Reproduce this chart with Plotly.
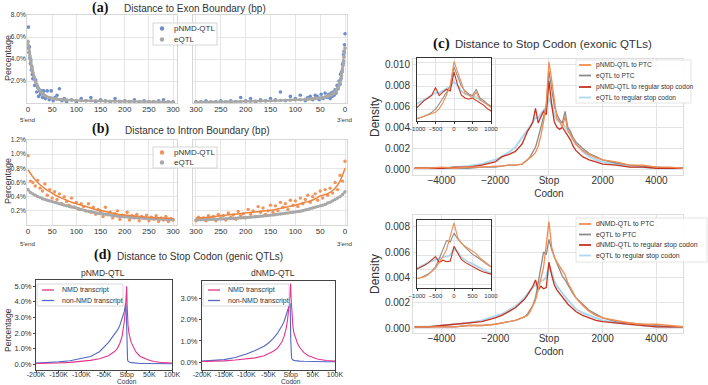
import plotly.graph_objects as go

W, H = 708, 385
def fx(p): return p / W
def fy(p): return 1 - p / H

# ---------------- DATA ----------------
# (a) Distance to exon boundary (bp), percentage
A_POS = [0,1,2,3,4,5,6,7,8,9,10,12,14,16,18,20,22,24,26,28,30,33,36,40,44,48,52,56,60,65,70,75,80,
         90,100,110,120,130,140,150,160,170,180,190,200,210,220,230,240,250,260,270,280,290,300]
A5_EQTL = [5.6,5.2,4.9,4.6,4.3,4.0,3.7,3.4,3.2,3.0,2.8, 2.4,2.1,1.9,1.7,1.5,1.3,1.2,1.05,0.95,0.85,
           0.75,0.65,0.55,0.5,0.45,0.4,0.38,0.35, 0.32,0.3,0.28,0.27,
           0.25,0.23,0.22,0.21,0.2,0.19,0.18,0.17,0.16,0.15,0.15,0.14,0.13,0.13,0.12,0.12,0.11,0.11,0.1,0.1,0.1,0.09]
A5_PNMD = [5.0,6.9,4.6,5.1,4.1,3.6,3.9,3.0,3.3,2.6,2.2, 2.3,1.6,2.1,1.0,1.4,0.6,1.1,0.8,1.1,0.5,
           1.1,0.4,1.1,0.3,1.1,0.2,0.5,0.7, 1.3,0.2,0.4,0.1,
           0.3,0.1,0.4,0.2,0.5,0.1,0.3,0.2,0.1,0.4,0.1,0.2,0.1,0.3,0.1,0.2,0.1,0.1,0.2,0.3,0.1,0.1]
A3_EQTL = [5.0,4.6,4.2,3.8,3.4,3.1,2.8,2.5,2.3,2.1,1.9, 1.6,1.4,1.25,1.1,1.0,0.9,0.85,0.8,0.75,0.7,
           0.65,0.6,0.55,0.5,0.47,0.45,0.43,0.4, 0.38,0.36,0.35,0.33,
           0.3,0.28,0.26,0.25,0.23,0.22,0.2,0.19,0.18,0.17,0.16,0.15,0.14,0.13,0.12,0.12,0.11,0.1,0.1,0.09,0.09,0.08]
A3_PNMD = [6.3,5.3,4.7,4.4,3.6,3.5,2.9,2.8,2.2,2.6,1.7, 2.0,1.3,1.6,0.9,1.2,0.7,1.0,0.6,0.9,0.4,
           0.8,0.5,0.9,0.4,0.8,0.3,0.6,0.7, 0.3,0.6,0.5,0.2,
           0.7,0.4,0.6,0.2,1.0,0.3,0.4,0.2,0.3,0.1,0.4,0.2,0.5,0.1,0.2,0.1,0.2,0.1,0.1,0.2,0.1,0.1]
A_YTICKS = [2, 4, 6, 8]
AB_XTICKS = [0, 50, 100, 150, 200, 250, 300]

# (b) Distance to intron boundary (bp), percentage
B_POS = list(range(0, 301, 5))
B5_EQTL = [0.5,0.46,0.44,0.42,0.40,0.39,0.37,0.36,0.35,0.34,0.33,0.32,0.31,0.30,0.29,0.28,0.27,0.26,0.255,0.25,
           0.24,0.23,0.22,0.21,0.2,0.195,0.19,0.18,0.17,0.165,0.16,0.155,0.15,0.145,0.14,0.135,0.13,0.125,0.12,0.118,
           0.115,0.112,0.11,0.107,0.105,0.102,0.1,0.098,0.096,0.094,0.092,0.09,0.088,0.086,0.085,0.083,0.082,0.08,0.08,0.078,0.077]
B5_PNMD = [0.98,0.62,0.6,0.55,0.63,0.52,0.48,0.58,0.42,0.5,0.38,0.47,0.36,0.44,0.3,0.4,0.33,0.28,0.38,0.25,
           0.32,0.22,0.3,0.26,0.2,0.3,0.18,0.25,0.15,0.22,0.2,0.12,0.25,0.15,0.18,0.1,0.16,0.2,0.08,0.14,
           0.12,0.18,0.07,0.13,0.1,0.15,0.06,0.12,0.09,0.14,0.06,0.11,0.08,0.13,0.05,0.1,0.07,0.12,0.05,0.09,0.07]
B3_EQTL = [0.47,0.43,0.40,0.38,0.36,0.34,0.32,0.31,0.29,0.28,0.27,0.26,0.25,0.24,0.23,0.22,0.21,0.2,0.195,0.19,
           0.185,0.18,0.175,0.17,0.165,0.16,0.155,0.15,0.145,0.14,0.137,0.133,0.13,0.127,0.124,0.12,0.117,0.114,0.11,0.108,
           0.105,0.102,0.1,0.098,0.096,0.094,0.092,0.09,0.088,0.086,0.085,0.083,0.082,0.08,0.079,0.078,0.077,0.076,0.075,0.074,0.073]
B3_PNMD = [0.9,0.62,0.7,0.5,0.6,0.45,0.52,0.42,0.5,0.38,0.48,0.35,0.44,0.4,0.32,0.42,0.36,0.3,0.38,0.26,
           0.34,0.28,0.35,0.22,0.3,0.25,0.32,0.2,0.27,0.18,0.28,0.2,0.15,0.24,0.18,0.26,0.12,0.2,0.15,0.22,
           0.1,0.16,0.13,0.19,0.08,0.14,0.11,0.17,0.07,0.13,0.1,0.15,0.06,0.12,0.09,0.13,0.06,0.1,0.08,0.11,0.06]
B_FIT_POS = [0,10,20,30,40,50,60,70,80,90,100,120,140,160,180,200,225,250,275,300]
B5_FIT = [0.78,0.68,0.6,0.54,0.49,0.45,0.41,0.38,0.35,0.32,0.3,0.26,0.22,0.19,0.16,0.14,0.125,0.11,0.1,0.09]
B3_FIT = [0.8,0.62,0.52,0.46,0.43,0.41,0.37,0.34,0.32,0.3,0.28,0.25,0.22,0.2,0.185,0.17,0.15,0.13,0.11,0.1]
B_YTICKS = [0.2, 0.4, 0.6, 0.8, 1.0, 1.2]

# (c) Distance to stop codon (exonic QTLs), density
C_POS = [-5000,-4500,-4000,-3500,-3000,-2500,-2000,-1750,-1500,-1250,
         -1000,-900,-800,-700,-600,-500,-400,-300,-200,-100,0,100,200,300,400,500,600,700,800,900,1000,
         1250,1500,1750,2000,2500,3000,3500,4000,4500,5000]
C1_PNMD_PTC = [0.0001,0.0001,0.0002,0.0001,0.0002,0.0002,0.0003,0.0003,0.0004,0.0004,
               0.0005,0.0007,0.0009,0.0011,0.0013,0.0016,0.0022,0.0032,0.0045,0.0062,0.0102,0.0085,0.0066,0.0048,0.0045,0.0040,0.0050,0.0037,0.0033,0.0028,0.0024,
               0.0018,0.0014,0.0011,0.0009,0.0007,0.0004,0.0004,0.0002,0.0002,0.0001]
C1_EQTL_PTC = [0.0001,0.0001,0.0001,0.0001,0.0001,0.0002,0.0002,0.0003,0.0004,0.0004,
               0.0005,0.0007,0.0009,0.0012,0.0016,0.0021,0.0030,0.0040,0.0050,0.0060,0.0093,0.0075,0.0060,0.0052,0.0047,0.0044,0.0055,0.0040,0.0036,0.0030,0.0026,
               0.0020,0.0015,0.0012,0.0009,0.0006,0.0004,0.0003,0.0002,0.0001,0.0001]
C1_PNMD_REG = [0.0001,0.0001,0.0001,0.0002,0.0002,0.0004,0.0007,0.0012,0.0014,0.0017,
               0.0024,0.0030,0.0036,0.0040,0.0045,0.0058,0.0044,0.0050,0.0055,0.0052,0.0084,0.0062,0.0045,0.0040,0.0038,0.0040,0.0036,0.0033,0.0028,0.0022,0.0018,
               0.0012,0.0009,0.0007,0.0005,0.0004,0.0002,0.0002,0.0001,0.0001,0.0001]
C1_EQTL_REG = [0.0001,0.0001,0.0001,0.0002,0.0003,0.0005,0.0009,0.0012,0.0016,0.0021,
               0.0031,0.0034,0.0037,0.0041,0.0045,0.0049,0.0049,0.0053,0.0056,0.0059,0.0068,0.0061,0.0052,0.0047,0.0045,0.0044,0.0041,0.0037,0.0033,0.0028,0.0024,
               0.0017,0.0012,0.0009,0.0007,0.0005,0.0003,0.0002,0.0001,0.0001,0.0001]
C2_DNMD_PTC = [0.0001,0.0001,0.0001,0.0001,0.0002,0.0002,0.0003,0.0004,0.0005,0.0006,
               0.0008,0.0009,0.0010,0.0013,0.0017,0.0022,0.0030,0.0038,0.0048,0.0066,0.0084,0.0064,0.0056,0.0052,0.0049,0.0046,0.0042,0.0036,0.0032,0.0027,0.0024,
               0.0018,0.0013,0.0010,0.0008,0.0006,0.0004,0.0003,0.0003,0.0002,0.0001]
C2_EQTL_PTC = [0.0001,0.0001,0.0001,0.0001,0.0002,0.0002,0.0003,0.0004,0.0005,0.0006,
               0.0008,0.0009,0.0011,0.0014,0.0018,0.0024,0.0035,0.0048,0.0060,0.0058,0.0070,0.0062,0.0056,0.0051,0.0046,0.0041,0.0038,0.0034,0.0030,0.0027,0.0024,
               0.0019,0.0014,0.0011,0.0008,0.0005,0.0004,0.0003,0.0002,0.0001,0.0001]
C2_DNMD_REG = [0.0001,0.0001,0.0002,0.0003,0.0004,0.0005,0.0008,0.0010,0.0013,0.0016,
               0.0021,0.0023,0.0026,0.0029,0.0033,0.0038,0.0030,0.0033,0.0031,0.0032,0.0052,0.0042,0.0034,0.0030,0.0027,0.0025,0.0022,0.0019,0.0017,0.0015,0.0013,
               0.0010,0.0008,0.0006,0.0005,0.0004,0.0003,0.0002,0.0001,0.0001,0.0001]
C2_EQTL_REG = [0.0001,0.0001,0.0002,0.0003,0.0004,0.0006,0.0009,0.0011,0.0014,0.0017,
               0.0022,0.0024,0.0027,0.0030,0.0032,0.0034,0.0036,0.0037,0.0038,0.0040,0.0049,0.0044,0.0037,0.0033,0.0030,0.0028,0.0025,0.0022,0.0020,0.0017,0.0015,
               0.0012,0.0010,0.0008,0.0006,0.0004,0.0003,0.0002,0.0001,0.0001,0.0001]
C_XTICKS = [-4000, -2000, 0, 2000, 4000]
C_XTEXT = ['\u22124000', '\u22122000', 'Stop<br>Codon', '2000', '4000']
C1_YTICKS = [0, 0.002, 0.004, 0.006, 0.008, 0.010]
C2_YTICKS = [0, 0.002, 0.004, 0.006, 0.008]
INSET_XTICKS = [-1000, -500, 0, 500, 1000]
INSET_XTEXT = ['\u22121000', '\u2212500', '0', '500', '1000']
C1_NAMES = ['pNMD-QTL to PTC', 'eQTL to PTC', 'pNMD-QTL to regular stop codon', 'eQTL to regular stop codon']
C2_NAMES = ['dNMD-QTL to PTC', 'eQTL to PTC', 'dNMD-QTL to regular stop codon', 'eQTL to regular stop codon']

# (d) Distance to stop codon (genic QTLs), percentage
D_POS = [-200000,-175000,-150000,-125000,-100000,-80000,-60000,-50000,-40000,-30000,-25000,-20000,-15000,-10000,
         -7000,-5000,-3000,-2000,-1000,0,1000,2000,3000,5000,7000,10000,15000,20000,30000,40000,50000,60000,80000,100000]
DP_NMD = [0.05,0.05,0.08,0.12,0.18,0.25,0.35,0.45,0.55,0.75,0.85,1.05,1.35,1.8,2.3,2.8,3.4,3.9,4.4,5.0,
          3.8,3.0,2.5,2.0,1.7,1.4,1.1,0.8,0.5,0.35,0.25,0.18,0.1,0.08]
DP_NON = [0.08,0.1,0.15,0.22,0.35,0.5,0.8,1.1,1.4,1.8,2.0,2.2,2.5,2.9,3.2,3.4,3.8,3.9,3.5,1.5,
          0.5,0.3,0.2,0.15,0.12,0.1,0.08,0.07,0.05,0.05,0.04,0.04,0.03,0.03]
DD_NMD = [0.03,0.04,0.06,0.1,0.15,0.2,0.3,0.4,0.5,0.65,0.8,0.95,1.2,1.6,2.0,2.3,2.8,3.1,3.4,3.7,
          3.0,2.5,2.1,1.7,1.4,1.2,0.9,0.7,0.45,0.3,0.22,0.15,0.08,0.05]
DD_NON = [0.05,0.08,0.12,0.22,0.38,0.55,0.75,0.9,1.1,1.35,1.5,1.7,1.9,2.2,2.4,2.55,2.7,2.8,2.7,1.2,
          0.4,0.2,0.15,0.1,0.08,0.07,0.05,0.05,0.04,0.03,0.03,0.02,0.02,0.02]
D_XTICKS = [-200000, -150000, -100000, -50000, 0, 50000, 100000]
D_XTEXT = ['-200K', '-150K', '-100K', '-50K', 'Stop', '50K', '100K']
D_STOP_SUB = 'Codon'
DP_YTICKS = [0, 1, 2, 3, 4, 5]
DD_YTICKS = [0, 1, 2, 3]
D_NAMES = ['NMD transcript', 'non-NMD transcript']

# ---------------- STYLE ----------------
BLUE_A = '#6e8dca'
GRAY = '#a8a8a8'
ORANGE_B = '#f0945a'
ORANGE_FIT = '#ec8440'
PINK = '#e3348c'
BLUE_D = '#5567c2'
C_COLORS = ['#f58b4e', '#8c8c8c', '#c8321f', '#b0d8ef']
FONT = 'Liberation Sans, Arial, sans-serif'
SERIF = 'Liberation Serif, Times New Roman, serif'
TXT = '#333333'

fig = go.Figure()

def pct(vals):
    return ['%.1f%%' % v for v in vals]

# subplot index map
# 1 a-left, 2 a-right, 3 b-left, 4 b-right, 5 d-left, 6 d-right, 7 c-top, 8 c-bottom, 9 c-top inset, 10 c-bottom inset
def ax(n):
    return ('x' if n == 1 else 'x%d' % n), ('y' if n == 1 else 'y%d' % n)

def add(n, **kw):
    xa, ya = ax(n)
    fig.add_trace(go.Scatter(xaxis=xa, yaxis=ya, showlegend=False, hoverinfo='skip', **kw))

# (a)
for n, pn, eq in [(1, A5_PNMD, A5_EQTL), (2, A3_PNMD, A3_EQTL)]:
    add(n, x=A_POS, y=pn, mode='markers', name='pNMD-QTL', marker=dict(size=3.6, color=BLUE_A))
    add(n, x=A_POS, y=eq, mode='lines+markers', name='eQTL', line=dict(color=GRAY, width=2.2),
        marker=dict(size=3.6, color=GRAY))
# (b)
for n, pn, eq, fit in [(3, B5_PNMD, B5_EQTL, B5_FIT), (4, B3_PNMD, B3_EQTL, B3_FIT)]:
    add(n, x=B_POS, y=pn, mode='markers', name='pNMD-QTL', marker=dict(size=3.4, color=ORANGE_B))
    add(n, x=B_POS, y=eq, mode='lines+markers', name='eQTL', line=dict(color=GRAY, width=2.0),
        marker=dict(size=3.4, color=GRAY))
    add(n, x=B_FIT_POS, y=fit, mode='lines', name='pNMD-QTL fit', line=dict(color=ORANGE_FIT, width=1.5, shape='spline'))
# (d)
for n, nmd, non in [(5, DP_NMD, DP_NON), (6, DD_NMD, DD_NON)]:
    add(n, x=D_POS, y=non, mode='lines', name=D_NAMES[1], line=dict(color=BLUE_D, width=1.1))
    add(n, x=D_POS, y=nmd, mode='lines', name=D_NAMES[0], line=dict(color=PINK, width=1.1))
# (c) main + insets
C1 = [C1_PNMD_PTC, C1_EQTL_PTC, C1_PNMD_REG, C1_EQTL_REG]
C2 = [C2_DNMD_PTC, C2_EQTL_PTC, C2_DNMD_REG, C2_EQTL_REG]
order = [3, 1, 2, 0]
for n, series, names in [(7, C1, C1_NAMES), (8, C2, C2_NAMES), (9, C1, C1_NAMES), (10, C2, C2_NAMES)]:
    for i in order:
        w = 1.3 if n < 9 else 1.1
        if i == 3:
            w += 0.8
        add(n, x=C_POS, y=series[i], mode='lines', name=names[i],
            line=dict(color=C_COLORS[i], width=w))

# ---------------- AXES ----------------
def whitegrid(**kw):
    d = dict(showgrid=True, gridcolor='#e6e6e6', gridwidth=1, zeroline=False, showline=True,
             linecolor='#d6d6d6', linewidth=1, mirror=True, ticks='', automargin=False,
             tickfont=dict(size=8, color=TXT, family=FONT))
    d.update(kw)
    return d

def boxed(**kw):
    d = dict(showgrid=False, zeroline=False, showline=True, linecolor='#444444', linewidth=1, mirror=True,
             ticks='outside', ticklen=2, tickwidth=0.8, tickcolor='#444444', automargin=False,
             tickfont=dict(size=7, color=TXT, family=FONT))
    d.update(kw)
    return d

lay = {}
def set_axes(n, xdom, ydom, xa, ya):
    xk = 'xaxis' if n == 1 else 'xaxis%d' % n
    yk = 'yaxis' if n == 1 else 'yaxis%d' % n
    xid, yid = ax(n)
    xa.update(domain=[fx(xdom[0]), fx(xdom[1])], anchor=yid)
    ya.update(domain=[fy(ydom[1]), fy(ydom[0])], anchor=xid)
    lay[xk] = xa
    lay[yk] = ya

small_y = dict(size=6.5, color=TXT, family=FONT)
# (a)
set_axes(1, (27, 177), (15, 103),
         whitegrid(range=[-2, 308], tickvals=AB_XTICKS, ticklabelstandoff=-2, tickangle=0),
         whitegrid(range=[0, 8], tickvals=A_YTICKS, ticktext=pct(A_YTICKS), tickfont=small_y, ticklabelstandoff=-1))
set_axes(2, (193, 347), (15, 103),
         whitegrid(range=[306, -4], tickvals=AB_XTICKS, ticklabelstandoff=-2, tickangle=0),
         whitegrid(range=[0, 8], tickvals=A_YTICKS, showticklabels=False))
# (b)
set_axes(3, (27, 177), (140, 225),
         whitegrid(range=[-2, 308], tickvals=AB_XTICKS, ticklabelstandoff=-2, tickangle=0),
         whitegrid(range=[0, 1.2], tickvals=B_YTICKS, ticktext=pct(B_YTICKS), tickfont=small_y, ticklabelstandoff=-1))
set_axes(4, (193, 347), (140, 225),
         whitegrid(range=[306, -4], tickvals=AB_XTICKS, ticklabelstandoff=-2, tickangle=0),
         whitegrid(range=[0, 1.2], tickvals=B_YTICKS, showticklabels=False))
# (d)
set_axes(5, (36, 172), (280, 370),
         boxed(range=[-200000, 100000], tickvals=D_XTICKS, ticktext=D_XTEXT, tickangle=0, ticklabelstandoff=-4),
         boxed(range=[-0.37, 5.4], tickvals=DP_YTICKS, ticktext=pct(DP_YTICKS), tickfont=dict(size=7.5, color=TXT, family=FONT)))
set_axes(6, (202, 335), (281, 370),
         boxed(range=[-200000, 100000], tickvals=D_XTICKS, ticktext=D_XTEXT, tickangle=0, ticklabelstandoff=-4),
         boxed(range=[-0.37, 3.82], tickvals=DD_YTICKS, ticktext=pct(DD_YTICKS), tickfont=dict(size=7.5, color=TXT, family=FONT)))
# (c)
cgrid = dict(gridcolor='#e3e3e3', gridwidth=1.3, linecolor='#dddddd', tickfont=dict(size=10, color=TXT, family=FONT))
set_axes(7, (413, 683), (59, 175),
         whitegrid(range=[-5060, 4990], tickvals=C_XTICKS, ticktext=C_XTEXT, ticklabelstandoff=-4, **cgrid),
         whitegrid(range=[-0.00054, 0.01048], tickvals=C1_YTICKS, ticktext=['%.3f' % v for v in C1_YTICKS], **cgrid))
set_axes(8, (413, 683), (215, 333),
         whitegrid(range=[-5060, 4990], tickvals=C_XTICKS, ticktext=C_XTEXT, ticklabelstandoff=-4, **cgrid),
         whitegrid(range=[-0.00039, 0.00892], tickvals=C2_YTICKS, ticktext=['%.3f' % v for v in C2_YTICKS], **cgrid))
inset_x = dict(range=[-1000, 1000], tickvals=INSET_XTICKS, ticktext=INSET_XTEXT, linecolor='#333333',
               gridcolor='#e3e3e3', ticks='outside', ticklen=2, tickcolor='#333333', tickangle=0,
               tickfont=dict(size=6, color=TXT, family=FONT))
set_axes(9, (417, 491), (58, 121),
         whitegrid(**inset_x),
         whitegrid(range=[0.0001, 0.0108], dtick=0.002, showticklabels=False, linecolor='#333333', gridcolor='#e3e3e3'))
set_axes(10, (417, 491), (220, 288),
         whitegrid(**inset_x),
         whitegrid(range=[-0.0005, 0.0088], dtick=0.002, showticklabels=False, linecolor='#333333', gridcolor='#e3e3e3'))

# ---------------- ANNOTATIONS / LEGENDS ----------------
ann = []
shapes = []
def text(x, y, s, size, xanchor='center', angle=0, family=FONT, color=TXT, xref='paper'):
    ann.append(dict(x=fx(x) if xref == 'paper' else x, y=fy(y), xref=xref, yref='paper', text=s, showarrow=False,
                    xanchor=xanchor, yanchor='middle', textangle=angle,
                    font=dict(size=size, family=family, color=color)))

# panel titles
text(100, 8, '<b>(a)</b>', 14, family=SERIF, color='#111')
text(122, 8, 'Distance to Exon Boundary (bp)', 10, xanchor='left')
text(100, 129, '<b>(b)</b>', 14, family=SERIF, color='#111')
text(123, 130, 'Distance to Intron Boundary (bp)', 10, xanchor='left')
text(102, 255, '<b>(d)</b>', 14, family=SERIF, color='#111')
text(115, 256, 'Distance to Stop Codon (genic QTLs)', 10, xanchor='left')
text(441, 43, '<b>(c)</b>', 15, family=SERIF, color='#111')
text(453, 44, 'Distance to Stop Codon (exonic QTLs)', 11.5, xanchor='left')
text(103, 273, 'pNMD-QTL', 8.5)
text(273, 273, 'dNMD-QTL', 8.5)
# axis titles
text(8, 58, 'Percentage', 9, angle=-90)
text(8, 181, 'Percentage', 9, angle=-90)
text(8, 330, 'Percentage', 8.5, angle=-90)
text(375, 117, 'Density', 12, angle=-90)
text(375, 274, 'Density', 12, angle=-90)
for yy in (119, 243):
    text(28, yy, "5'end", 6.2)
    text(345, yy, "3'end", 6.2)
# second line under the 'Stop' tick in (d), placed at the stop position of each x axis
text(0, 381.8, D_STOP_SUB, 6.6, xref='x5')
text(0, 381.8, D_STOP_SUB, 6.6, xref='x6')

def box(x0, y0, x1, y1, border='#cccccc', fill='rgba(255,255,255,0.9)'):
    shapes.append(dict(type='rect', xref='paper', yref='paper', x0=fx(x0), x1=fx(x1), y0=fy(y1), y1=fy(y0),
                       fillcolor=fill, line=dict(color=border, width=0.8), layer='above'))
def dot(cx, cy, color, r=2.2):
    shapes.append(dict(type='circle', xref='paper', yref='paper', x0=fx(cx - r), x1=fx(cx + r),
                       y0=fy(cy + r), y1=fy(cy - r), fillcolor=color, line=dict(width=0), layer='above'))
def seg(x0, x1, y, color, w=1.5):
    shapes.append(dict(type='line', xref='paper', yref='paper', x0=fx(x0), x1=fx(x1), y0=fy(y), y1=fy(y),
                       line=dict(color=color, width=w), layer='above'))

# (a) legend
box(153, 23, 217, 45)
dot(162, 28.5, BLUE_A); text(172, 28.5, 'pNMD-QTL', 8, xanchor='left')
dot(162, 39.5, GRAY); text(172, 39.5, 'eQTL', 8, xanchor='left')
# (b) legend
box(153, 147, 217, 168)
dot(162, 152.5, ORANGE_B); text(172, 152.5, 'pNMD-QTL', 8, xanchor='left')
dot(162, 162.5, GRAY); text(172, 162.5, 'eQTL', 8, xanchor='left')
# (d) legends
for bx in (37, 203):
    box(bx, 284, bx + 86, 306, border='#cfcfcf')
    seg(bx + 5, bx + 17, 290, PINK, 1.3); text(bx + 23, 290, D_NAMES[0], 7, xanchor='left')
    seg(bx + 5, bx + 17, 300.5, BLUE_D, 1.3); text(bx + 23, 300.5, D_NAMES[1], 7, xanchor='left')
# (c) legends
for (bx0, by0, bx1, by1, names, ys, fs) in [(576, 60, 691, 103, C1_NAMES, [65, 75.5, 87, 97.5], 6.6),
                                            (576, 218, 707, 262, C2_NAMES, [224, 234.5, 245, 255.5], 6.9)]:
    box(bx0, by0, bx1, by1, border='#dddddd')
    for i, yy in enumerate(ys):
        seg(bx0 + 3, bx0 + 15, yy, C_COLORS[i], 1.8)
        text(bx0 + 18, yy, names[i], fs, xanchor='left')

fig.update_layout(
    width=W, height=H, margin=dict(l=0, r=0, t=0, b=0, autoexpand=False),
    paper_bgcolor='white', plot_bgcolor='white',
    font=dict(family=FONT, color=TXT),
    annotations=ann, shapes=shapes, showlegend=False,
    **lay
)
# remove the default page margin so the 708x385 figure fills the window exactly
fig.write_html('out.html', config={'displayModeBar': False},
               post_script="document.body.style.margin='0';document.body.style.padding='0';document.documentElement.style.overflow='hidden';")
